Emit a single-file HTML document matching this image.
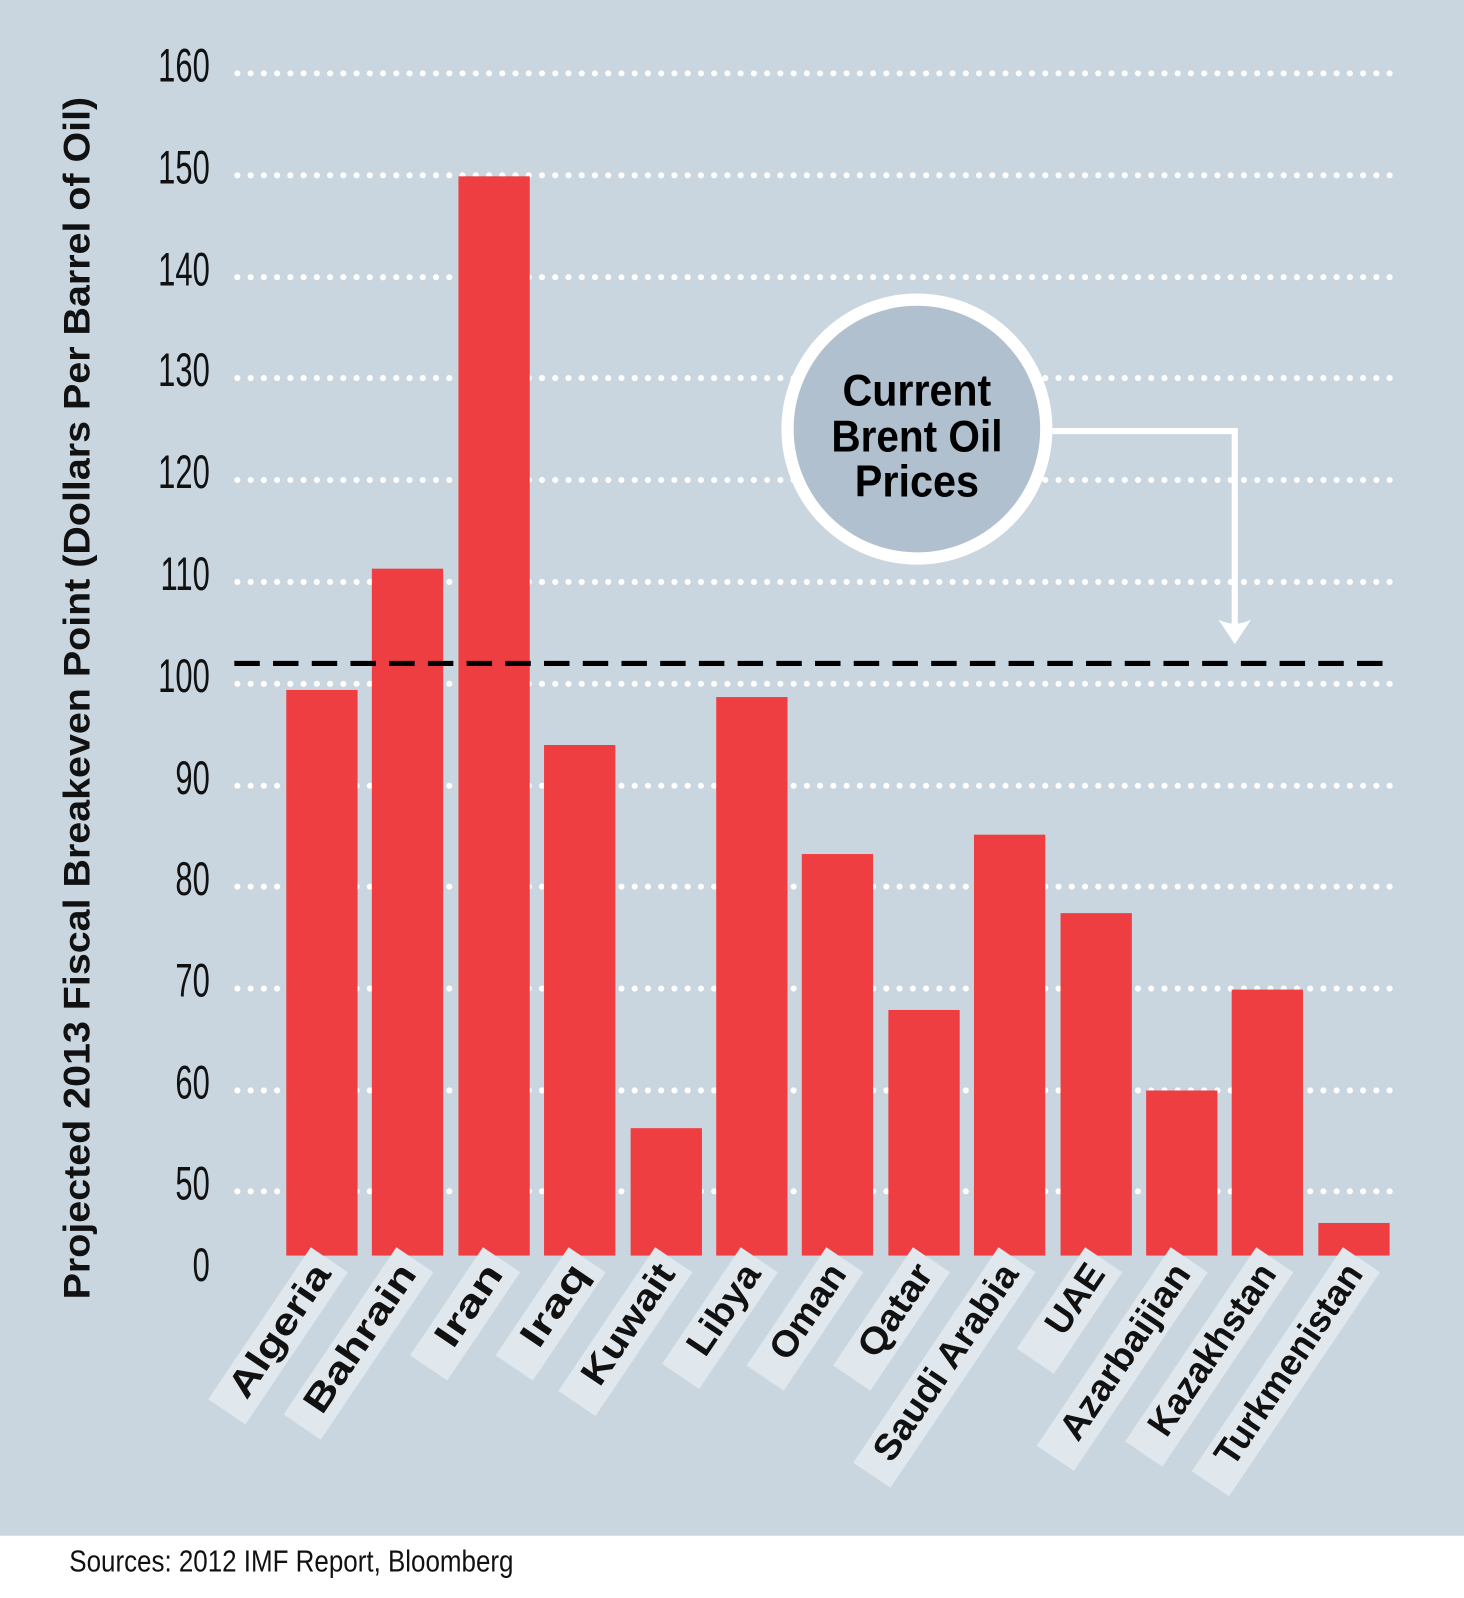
<!DOCTYPE html>
<html><head><meta charset="utf-8"><style>
html,body{margin:0;padding:0;background:#fff}
svg{display:block}
text{font-family:"Liberation Sans",sans-serif}
</style></head><body>
<svg width="1464" height="1598" viewBox="0 0 1437 1568" preserveAspectRatio="none" xmlns="http://www.w3.org/2000/svg">
<rect x="0" y="0" width="1437" height="1507" fill="#c9d6df"/>
<rect x="0" y="1507" width="1437" height="61" fill="#fff"/>
<g fill="none" stroke="#fff" stroke-width="6" stroke-linecap="round" stroke-dasharray="0 13">
<path d="M233 72H1370M233 172H1370M233 272H1370M233 371H1370M233 471H1370M233 571H1370M233 671H1370M233 771H1370M233 870H1370M233 970H1370M233 1070H1370M233 1169H1370"/>
</g>
<g font-size="46" fill="#111" text-anchor="end">
<g transform="scale(0.66,1)">
<text x="312" y="80">160</text><text x="312" y="180">150</text><text x="312" y="280">140</text><text x="312" y="379">130</text><text x="312" y="479">120</text><text x="312" y="579">110</text><text x="312" y="679">100</text><text x="312" y="779">90</text><text x="312" y="878">80</text><text x="312" y="978">70</text><text x="312" y="1078">60</text><text x="312" y="1177">50</text><text x="312" y="1257">0</text>
</g></g>
<text transform="translate(88,685) rotate(-90)" text-anchor="middle" font-size="36" font-weight="bold" fill="#111" textLength="1180" lengthAdjust="spacingAndGlyphs">Projected 2013 Fiscal Breakeven Point (Dollars Per Barrel of Oil)</text>
<g fill="#ef3e42">
<rect x="281" y="677" width="70" height="555"/>
<rect x="365" y="558" width="70" height="674"/>
<rect x="450" y="173" width="70" height="1059"/>
<rect x="534" y="731" width="70" height="501"/>
<rect x="619" y="1107" width="70" height="125"/>
<rect x="703" y="684" width="70" height="548"/>
<rect x="787" y="838" width="70" height="394"/>
<rect x="872" y="991" width="70" height="241"/>
<rect x="956" y="819" width="70" height="413"/>
<rect x="1041" y="896" width="70" height="336"/>
<rect x="1125" y="1070" width="70" height="162"/>
<rect x="1209" y="971" width="70" height="261"/>
<rect x="1294" y="1200" width="70" height="32"/>
</g>
<path d="M230 651H1370" stroke="#000" stroke-width="5" stroke-dasharray="25 13"/>
<circle cx="900" cy="421" r="127" fill="#b0c0ce" stroke="#fff" stroke-width="12"/>
<g font-size="44" font-weight="bold" fill="#000" text-anchor="middle">
<text x="900" y="398" textLength="146" lengthAdjust="spacingAndGlyphs">Current</text>
<text x="900" y="443" textLength="168" lengthAdjust="spacingAndGlyphs">Brent Oil</text>
<text x="900" y="487" textLength="122" lengthAdjust="spacingAndGlyphs">Prices</text>
</g>
<path d="M1033 423H1212V618" fill="none" stroke="#fff" stroke-width="6"/>
<path d="M1196 608L1212 632L1228 608Q1212 616 1196 608Z" fill="#fff"/>
<g font-size="36" fill="#111" font-weight="bold">
<g transform="translate(326,1250) rotate(-56)"><rect x="-170" y="-32" width="180" height="44" fill="#e1e8ed"/><text x="0" y="0" text-anchor="end" textLength="150" lengthAdjust="spacingAndGlyphs">Algeria</text></g>
<g transform="translate(410,1250) rotate(-56)"><rect x="-188" y="-32" width="198" height="44" fill="#e1e8ed"/><text x="0" y="0" text-anchor="end" textLength="168" lengthAdjust="spacingAndGlyphs">Bahrain</text></g>
<g transform="translate(495,1250) rotate(-56)"><rect x="-118" y="-32" width="128" height="44" fill="#e1e8ed"/><text x="0" y="0" text-anchor="end" textLength="90" lengthAdjust="spacingAndGlyphs">Iran</text></g>
<g transform="translate(579,1250) rotate(-56)"><rect x="-118" y="-32" width="128" height="44" fill="#e1e8ed"/><text x="0" y="0" text-anchor="end" textLength="90" lengthAdjust="spacingAndGlyphs">Iraq</text></g>
<g transform="translate(664,1250) rotate(-56)"><rect x="-160" y="-32" width="170" height="44" fill="#e1e8ed"/><text x="0" y="0" text-anchor="end" textLength="135" lengthAdjust="spacingAndGlyphs">Kuwait</text></g>
<g transform="translate(748,1250) rotate(-56)"><rect x="-128" y="-32" width="138" height="44" fill="#e1e8ed"/><text x="0" y="0" text-anchor="end" textLength="100" lengthAdjust="spacingAndGlyphs">Libya</text></g>
<g transform="translate(832,1250) rotate(-56)"><rect x="-130" y="-32" width="140" height="44" fill="#e1e8ed"/><text x="0" y="0" text-anchor="end" textLength="105" lengthAdjust="spacingAndGlyphs">Oman</text></g>
<g transform="translate(917,1250) rotate(-56)"><rect x="-130" y="-32" width="140" height="44" fill="#e1e8ed"/><text x="0" y="0" text-anchor="end" textLength="102" lengthAdjust="spacingAndGlyphs">Qatar</text></g>
<g transform="translate(1001,1250) rotate(-56)"><rect x="-245" y="-32" width="255" height="44" fill="#e1e8ed"/><text x="0" y="0" text-anchor="end" textLength="225" lengthAdjust="spacingAndGlyphs">Saudi Arabia</text></g>
<g transform="translate(1086,1250) rotate(-56)"><rect x="-110" y="-32" width="120" height="44" fill="#e1e8ed"/><text x="0" y="0" text-anchor="end" textLength="75" lengthAdjust="spacingAndGlyphs">UAE</text></g>
<g transform="translate(1170,1250) rotate(-56)"><rect x="-225" y="-32" width="235" height="44" fill="#e1e8ed"/><text x="0" y="0" text-anchor="end" textLength="200" lengthAdjust="spacingAndGlyphs">Azarbaijian</text></g>
<g transform="translate(1254,1250) rotate(-56)"><rect x="-220" y="-32" width="230" height="44" fill="#e1e8ed"/><text x="0" y="0" text-anchor="end" textLength="195" lengthAdjust="spacingAndGlyphs">Kazakhstan</text></g>
<g transform="translate(1339,1250) rotate(-56)"><rect x="-255" y="-32" width="265" height="44" fill="#e1e8ed"/><text x="0" y="0" text-anchor="end" textLength="230" lengthAdjust="spacingAndGlyphs">Turkmenistan</text></g>
</g>
<text x="68" y="1542" font-size="30" fill="#111" textLength="436" lengthAdjust="spacingAndGlyphs">Sources: 2012 IMF Report, Bloomberg</text>
</svg>
</body></html>
